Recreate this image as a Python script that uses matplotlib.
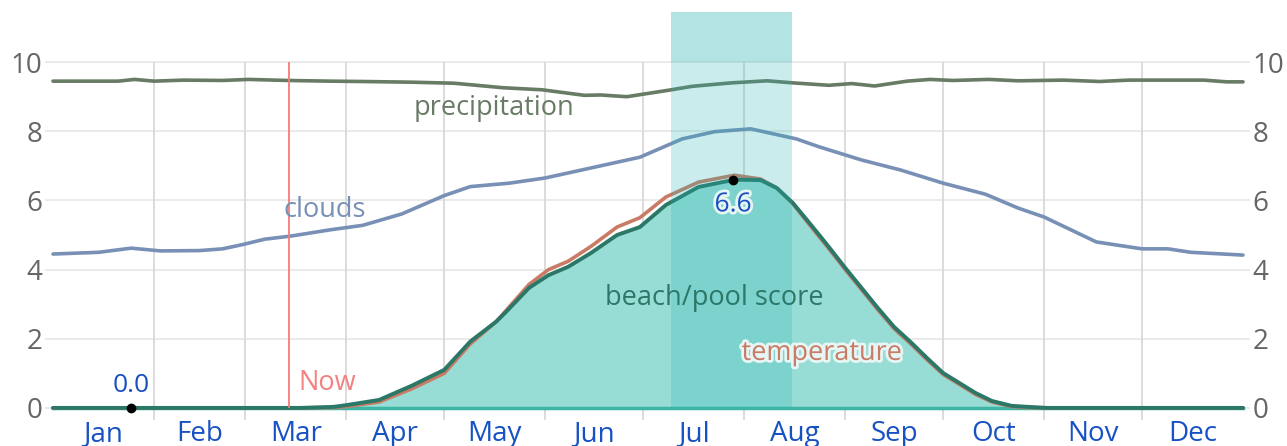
import matplotlib
matplotlib.use("Agg")
import matplotlib.pyplot as plt
import matplotlib.patheffects as pe
from matplotlib.patches import Rectangle

plt.rcParams['font.family'] = ['Open Sans', 'DejaVu Sans']

# day of year -> value (0..10)
score_days = [0, 60, 76, 86, 90, 100, 110, 120, 128, 136, 139, 146, 152, 158, 165, 173, 180,
              188, 198, 209, 217, 222, 227, 232, 237, 243, 248, 253, 258, 263, 268, 273, 278,
              283, 288, 294, 299, 305, 365]
score = [0, 0, 0.0, 0.03, 0.08, 0.23, 0.64, 1.1, 1.92, 2.5, 2.78, 3.47, 3.84, 4.08, 4.48, 5.0, 5.23,
         5.87, 6.39, 6.6, 6.59, 6.36, 5.92, 5.35, 4.77, 4.05, 3.47, 2.89, 2.34, 1.91, 1.45, 1.01, 0.72,
         0.43, 0.2, 0.06, 0.03, 0, 0]
temperature = [0, 0, 0, 0.01, 0.04, 0.17, 0.55, 1.0, 1.85, 2.5, 2.82, 3.57, 4.0, 4.24, 4.67, 5.23, 5.5,
               6.1, 6.53, 6.73, 6.62, 6.36, 5.9, 5.3, 4.72, 4.0, 3.42, 2.84, 2.29, 1.86, 1.4, 0.97, 0.68,
               0.39, 0.17, 0.04, 0.01, 0, 0]

cloud_days = [0, 14, 24, 33, 45, 52, 58, 65, 73, 85, 95, 107, 120, 128, 140, 151, 166, 180,
              193, 203, 214, 228, 235, 248, 260, 273, 286, 296, 304, 320, 334, 342, 349, 365]
clouds = [4.45, 4.5, 4.62, 4.54, 4.55, 4.6, 4.72, 4.88, 4.97, 5.15, 5.28, 5.61, 6.14, 6.4, 6.5, 6.65, 6.96, 7.25,
          7.78, 7.99, 8.07, 7.78, 7.55, 7.17, 6.88, 6.5, 6.18, 5.78, 5.52, 4.8, 4.6, 4.6, 4.5, 4.42]

precip_days = [0, 20, 25, 31, 40, 52, 60, 72, 85, 95, 110, 123, 138, 150, 163, 168, 176, 189, 196,
               208, 219, 227, 238, 245, 252, 262, 269, 276, 287, 296, 310, 321, 330, 353, 360, 365]
precipitation = [9.45, 9.45, 9.5, 9.45, 9.48, 9.47, 9.5, 9.47, 9.45, 9.44, 9.42, 9.39, 9.26, 9.2, 9.04, 9.05,
                 9.0, 9.19, 9.3, 9.4, 9.46, 9.4, 9.33, 9.38, 9.31, 9.45, 9.5, 9.47, 9.5, 9.46, 9.48, 9.44,
                 9.48, 9.48, 9.43, 9.43]

month_starts = [0, 31, 59, 90, 120, 151, 181, 212, 243, 273, 304, 334, 365]
month_names = ['Jan', 'Feb', 'Mar', 'Apr', 'May', 'Jun', 'Jul', 'Aug', 'Sep', 'Oct', 'Nov', 'Dec']
now_day = 72.4
best_start, best_end = 189.6, 226.7
min_day, min_val = 24, 0.0
max_day, max_val = 208.6, 6.6

fig = plt.figure(figsize=(12.87, 4.46), dpi=100)
ax = fig.add_axes([45/1287, 26/446, 1205/1287, 408/446])
ax.set_xlim(-2.45, 367.15)
ax.set_ylim(-0.35, 11.45)
for s in ax.spines.values():
    s.set_visible(False)

# grid
for v in range(0, 11, 2):
    ax.axhline(v, color='#e8e8e8', lw=1.3, zorder=0)
ax.vlines(month_starts[1:-1], -0.35, 10, color='#d9d9d9', lw=1.3, zorder=0)

# score area
ax.fill_between(score_days, score, 0, color='#97ddd5', lw=0, zorder=1)
ax.axhline(0, xmin=8/1205, xmax=1198/1205, color='#3db5a5', lw=2.5, zorder=2)

kw = dict(solid_joinstyle='round', solid_capstyle='round')
ax.plot(precip_days, precipitation, color='#687b64', lw=2.6, zorder=3, **kw)
ax.plot(cloud_days, clouds, color='#7890b6', lw=2.6, zorder=3, **kw)
ax.plot(score_days, temperature, color='#c97b65', lw=2.6, zorder=3, **kw)
ax.plot(score_days, score, color='#2b7768', lw=2.8, zorder=4, **kw)

# now line
ax.vlines(now_day, 0, 10, color='#f47b7b', lw=1.3, zorder=5)

# best period band
ax.add_patch(Rectangle((best_start, 0), best_end - best_start, 10,
                       color='#27b3b0', alpha=0.24, lw=0, zorder=6))
ax.add_patch(Rectangle((best_start, 10), best_end - best_start, 1.45,
                       color='#27b3b0', alpha=0.35, lw=0, zorder=6))

# min / max markers
ax.plot([min_day, max_day], [min_val, max_val], 'o', color='black', ms=6, zorder=7)
glow = [pe.withStroke(linewidth=4, foreground='#e6f6f4')]
ax.text(min_day, 0.66, f'{min_val:.1f}', color='#1a4fc0', fontsize=19,
        ha='center', va='center', zorder=8)
ax.text(max_day, 5.87, f'{max_val:.1f}', color='#1a4fc0', fontsize=19,
        ha='center', va='center', zorder=8, path_effects=glow)

# series labels
ax.text(135.3, 8.67, 'precipitation', color='#687b64', fontsize=19.5, ha='center', va='center', zorder=8)
ax.text(83.4, 5.72, 'clouds', color='#7890b6', fontsize=19.5, ha='center', va='center', zorder=8)
ax.text(202.8, 3.18, 'beach/pool score', color='#2b7768', fontsize=19.5, ha='center', va='center', zorder=8)
ax.text(235.9, 1.59, 'temperature', color='#c97b65', fontsize=19.5, ha='center', va='center', zorder=8,
        path_effects=glow)
ax.text(now_day + 2.8, 0.72, 'Now', color='#f48080', fontsize=19.5, ha='left', va='center', zorder=8)

# ticks
ax.set_yticks(range(0, 11, 2))
ax.tick_params(axis='y', length=0, pad=2, labelsize=20, labelcolor='#666666',
               left=False, right=False, labelleft=True, labelright=True)
mids = [(a + b) / 2 for a, b in zip(month_starts[:-1], month_starts[1:])]
ax.set_xticks(mids)
ax.set_xticklabels(month_names)
ax.tick_params(axis='x', length=0, pad=0, labelsize=20, labelcolor='#1652c4')

fig.savefig('out.png', dpi=100)
